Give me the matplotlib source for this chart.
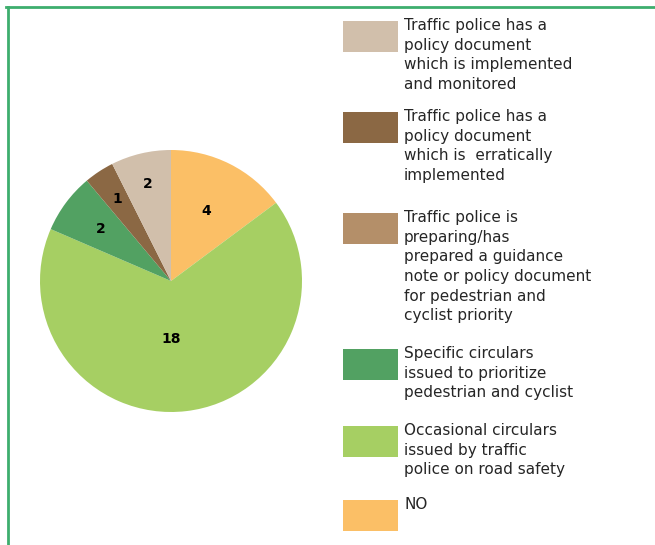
import matplotlib.pyplot as plt
from matplotlib.patches import Rectangle
from matplotlib.lines import Line2D
import numpy as np

# data, in legend order (top to bottom)
labels = ["Traffic police has a\npolicy document\nwhich is implemented\nand monitored",
          "Traffic police has a\npolicy document\nwhich is  erratically\nimplemented",
          "Traffic police is\npreparing/has\nprepared a guidance\nnote or policy document\nfor pedestrian and\ncyclist priority",
          "Specific circulars\nissued to prioritize\npedestrian and cyclist",
          "Occasional circulars\nissued by traffic\npolice on road safety",
          "NO"]
values = [2, 1, 0, 2, 18, 4]
colors = ["#D1BFAB", "#8B6844", "#B48F69", "#52A162", "#A6CF63", "#FBBF66"]

W, H = 655, 545
fig = plt.figure(figsize=(W / 100, H / 100), dpi=100)

# green frame (only top and left visible)
fig.add_artist(Line2D([6 / W, 1], [1 - 7 / H] * 2, color="#3DAE6E", lw=2))
fig.add_artist(Line2D([7.5 / W] * 2, [0, 1 - 7 / H], color="#3DAE6E", lw=2))

# pie, drawn clockwise from the top in reverse legend order
cx, cy, r = 171, 281, 131
ax = fig.add_axes([(cx - r) / W, 1 - (cy + r) / H, 2 * r / W, 2 * r / H])
wedges, _ = ax.pie(values[::-1], colors=colors[::-1], startangle=90,
                   counterclock=False, radius=1, wedgeprops=dict(linewidth=0))
ax.set_xlim(-1, 1)
ax.set_ylim(-1, 1)
ax.axis("off")

lab_r = [0.6, 0.44, 0.67, 0.0, 0.75, 0.76]
lab_shift = [0, -6.7, 0, 0, 0, 0]   # degrees, nudge like the original
for w, v, rr, sh in zip(wedges, values[::-1], lab_r, lab_shift):
    if v == 0:
        continue
    ang = np.deg2rad((w.theta1 + w.theta2) / 2 + sh)
    ax.text(rr * np.cos(ang), rr * np.sin(ang), str(v), ha="center", va="center",
            fontsize=10, fontweight="bold", color="black")

# legend drawn by hand
sw_top = [21, 112, 213, 349, 426, 500]
for lab, col, top in zip(labels, colors, sw_top):
    fig.add_artist(Rectangle((343 / W, 1 - (top + 31) / H), 55 / W, 31 / H,
                             facecolor=col, edgecolor="none"))
    fig.text(404 / W, 1 - (top - 3) / H, lab, ha="left", va="top",
             fontsize=11, color="#262626", linespacing=1.39)

fig.savefig("out.png", dpi=100)
